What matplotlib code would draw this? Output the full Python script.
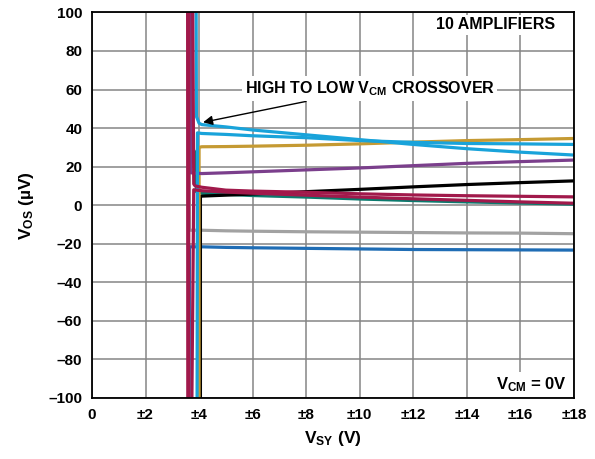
import numpy as np
import matplotlib
matplotlib.use("Agg")
import matplotlib.pyplot as plt

plt.rcParams['font.family'] = ['Liberation Sans', 'DejaVu Sans']
plt.rcParams['font.weight'] = 'bold'
plt.rcParams['mathtext.fontset'] = 'custom'
plt.rcParams['mathtext.rm'] = 'Liberation Sans:bold'
plt.rcParams['mathtext.it'] = 'Liberation Sans:bold'
plt.rcParams['mathtext.bf'] = 'Liberation Sans:bold'

# supply voltage (±V) where the tails are sampled
vsy_tail = [4.1, 5, 6, 8, 10, 12, 14, 16, 18]

# each amplifier: out-of-range sweep points followed by the settled Vos values (uV)
gray_x = [3.62, 3.64] + vsy_tail
gray_y = [150, -13] + [-13, -13.3, -13.5, -13.8, -14.0, -14.2, -14.4, -14.5, -14.8]

blue_x = [3.62, 3.64] + vsy_tail
blue_y = [-150, -21.6] + [-21.6, -21.9, -22.1, -22.4, -22.7, -23.0, -23.1, -23.2, -23.3]

teal_x = [3.7, 3.72, 3.87, 3.9] + vsy_tail
teal_y = [150, 30, 27, 7] + [6.2, 5.6, 5.0, 4.2, 3.2, 2.4, 1.7, 1.1, 0.5]

black_x = [4.05, 4.05] + vsy_tail
black_y = [-150, 4.5] + [4.7, 5.2, 5.8, 7.0, 8.2, 9.5, 10.7, 11.7, 12.6]

gold_x = [4.0, 4.0] + vsy_tail
gold_y = [-150, 30] + [30.3, 30.4, 30.6, 31.1, 31.8, 32.7, 33.5, 34.0, 34.6]

purple_x = [3.66, 3.68] + vsy_tail
purple_y = [150, 16.8] + [16.4, 16.8, 17.3, 18.3, 19.3, 20.5, 21.7, 22.6, 23.4]

cyan_lo_x = [3.92, 3.94] + vsy_tail
cyan_lo_y = [-150, 37.5] + [37.2, 36.7, 36.0, 35.0, 33.5, 32.6, 32.0, 31.8, 31.5]

cyan_hi_x = [3.88, 3.9, 4.0] + vsy_tail
cyan_hi_y = [150, 46, 42.5] + [41.8, 40.6, 39.0, 36.5, 34.0, 31.5, 29.3, 27.5, 26.0]

crimson_b_x = [3.57, 3.58, 3.70, 3.8] + vsy_tail
crimson_b_y = [150, -150, -150, 8] + [7.5, 6.8, 6.2, 5.2, 4.2, 3.3, 2.5, 1.7, 1.0]

crimson_a_x = [3.61, 3.62, 3.74, 3.8, 3.85] + vsy_tail
crimson_a_y = [-150, 150, 150, 11, 10] + [9.3, 7.8, 7.3, 6.7, 5.9, 5.3, 4.9, 4.6, 4.3]

series = [
    (gray_x, gray_y, '#a2a2a2'),
    (blue_x, blue_y, '#1f6db5'),
    (teal_x, teal_y, '#0b7a6d'),
    (black_x, black_y, '#000000'),
    (gold_x, gold_y, '#c59a33'),
    (purple_x, purple_y, '#7b3f8c'),
    (cyan_lo_x, cyan_lo_y, '#19a3da'),
    (cyan_hi_x, cyan_hi_y, '#19a3da'),
    (crimson_b_x, crimson_b_y, '#a1194b'),
    (crimson_a_x, crimson_a_y, '#a1194b'),
]

xticks = [0, 2, 4, 6, 8, 10, 12, 14, 16, 18]
xlabels = ['0', '±2', '±4', '±6', '±8', '±10', '±12', '±14', '±16', '±18']
yticks = [-100, -80, -60, -40, -20, 0, 20, 40, 60, 80, 100]
ylabels = ['–100', '–80', '–60', '–40', '–20', '0', '20', '40', '60', '80', '100']

fig = plt.figure(figsize=(5.95, 4.59), dpi=100)
ax = fig.add_axes([0.1546, 0.133, 0.810, 0.840])

for x, y, c in series:
    ax.plot(x, y, color=c, lw=2.3, solid_joinstyle='round')

ax.set_xlim(0, 18)
ax.set_ylim(-100, 100)
ax.set_xticks(xticks)
ax.set_xticklabels(xlabels)
ax.set_yticks(yticks)
ax.set_yticklabels(ylabels)
ax.tick_params(length=0, labelsize=11, pad=7)
ax.grid(True, color='#858585', lw=1.1)
ax.set_axisbelow(True)
for s in ax.spines.values():
    s.set_linewidth(1.3)
    s.set_color('black')

ax.set_xlabel('V$_{SY}$ (V)', fontsize=12.5, fontweight='bold', labelpad=5)
ax.set_ylabel('V$_{OS}$ (µV)', fontsize=12.5, fontweight='bold', labelpad=9)

box = dict(facecolor='white', edgecolor='none', pad=2)
ax.text(17.3, 93.5, '10 AMPLIFIERS', ha='right', va='center', fontsize=11.5,
        fontweight='bold', bbox=box)
ax.text(17.75, -93, 'V$_{CM}$ = 0V', ha='right', va='center', fontsize=12,
        fontweight='bold', bbox=box)
ax.annotate('HIGH TO LOW V$_{CM}$ CROSSOVER', xy=(4.15, 43), xytext=(5.7, 60.5),
            ha='left', va='center', fontsize=11.5, fontweight='bold', bbox=box,
            arrowprops=dict(arrowstyle='-|>', color='black', lw=1.0,
                            mutation_scale=14, shrinkA=3, shrinkB=0))

fig.savefig('out.png', dpi=100)
